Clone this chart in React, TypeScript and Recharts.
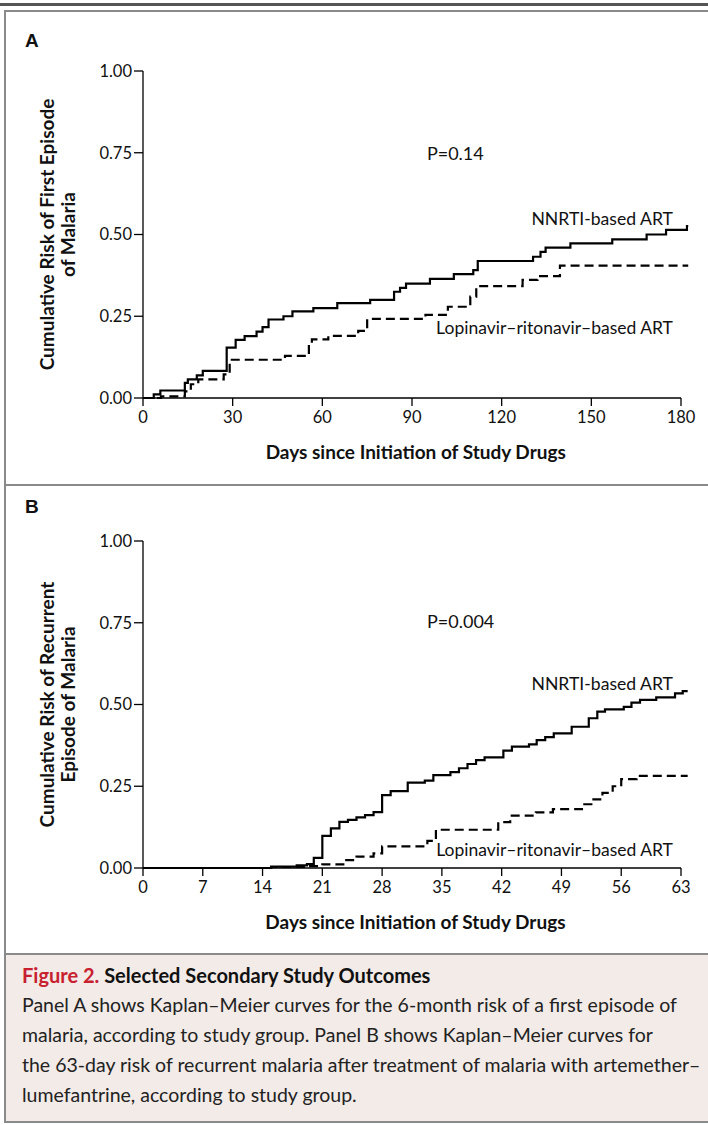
import { Line, LineChart, ReferenceDot, ReferenceLine, XAxis, YAxis } from "recharts";

const FONT = "Lato, 'Open Sans', 'DejaVu Sans', sans-serif";
const FRAME = "#8a8a8a";

// Panel A: risk of a first episode, days 0-180
const A_NNRTI_DAYS = [0, 3.6, 5.8, 14, 15, 18, 20, 28, 31, 34, 38, 40, 42, 47, 50, 57, 65, 76, 84, 86, 88, 96, 104, 110.5, 112, 130.5, 133, 134.7, 143, 157, 168.5, 175, 182, 182.5];
const A_NNRTI_RISK = [0, 0.011, 0.023, 0.046, 0.057, 0.069, 0.083, 0.154, 0.178, 0.189, 0.203, 0.217, 0.24, 0.25, 0.265, 0.275, 0.29, 0.3, 0.325, 0.337, 0.35, 0.364, 0.379, 0.391, 0.419, 0.432, 0.447, 0.46, 0.473, 0.485, 0.5, 0.514, 0.526, 0.526];
const A_LPV_DAYS = [0, 6, 14, 16, 18.5, 27, 29, 47.5, 55.5, 56.5, 62, 72, 75, 94.5, 102, 109.5, 111.5, 127, 132, 139.5, 182.5];
const A_LPV_RISK = [0, 0.005, 0.02, 0.042, 0.057, 0.072, 0.117, 0.129, 0.166, 0.179, 0.19, 0.205, 0.242, 0.254, 0.279, 0.31, 0.342, 0.361, 0.373, 0.405, 0.405];

// Panel B: risk of recurrent episode, days 0-63
const B_NNRTI_DAYS = [0, 15, 18, 19.2, 20, 21, 22, 23, 24, 25, 26, 27, 28, 29, 31, 33, 34, 36, 37, 38, 39, 40, 42.2, 43.2, 45.2, 46.1, 47.1, 48.1, 50.2, 52.2, 53.2, 54.1, 56.3, 57.2, 58.2, 60.1, 62.3, 63.2, 63.8];
const B_NNRTI_RISK = [0, 0.004, 0.008, 0.012, 0.031, 0.098, 0.121, 0.141, 0.147, 0.155, 0.162, 0.171, 0.223, 0.235, 0.261, 0.267, 0.284, 0.293, 0.305, 0.318, 0.33, 0.338, 0.359, 0.371, 0.378, 0.391, 0.4, 0.412, 0.432, 0.458, 0.478, 0.485, 0.493, 0.506, 0.514, 0.522, 0.534, 0.541, 0.541];
const B_LPV_DAYS = [0, 15, 19, 21, 23.6, 25, 27, 28, 33.3, 34.3, 41.6, 43, 46, 48, 51.4, 52.5, 53.8, 55, 56, 57.8, 63.8];
const B_LPV_RISK = [0, 0.003, 0.006, 0.011, 0.024, 0.035, 0.045, 0.066, 0.083, 0.117, 0.14, 0.16, 0.17, 0.18, 0.195, 0.21, 0.23, 0.25, 0.272, 0.282, 0.282];

const Y_TICKS = [0, 0.25, 0.5, 0.75, 1];
const A_TICKS = [0, 30, 60, 90, 120, 150, 180];
const B_TICKS = [0, 7, 14, 21, 28, 35, 42, 49, 56, 63];

type Point = { day: number; risk: number };
const toPoints = (days: number[], risk: number[]): Point[] => days.map((day, i) => ({ day, risk: risk[i] }));

const PLOT_LEFT = 143;
const PLOT_RIGHT = 681; // pixel of the last tick
const WIDTH = 708;

function textAt(value: string, anchor: "start" | "middle" | "end", size = 17, weight = 400, dy = 0) {
  return (props: any) => {
    const vb = props.viewBox ?? {};
    const x = vb.x + (vb.width || 0) / 2;
    const y = vb.y + (vb.height || 0) / 2 + dy;
    return (
      <text x={x} y={y} textAnchor={anchor} dominantBaseline="central" fontFamily={FONT} fontSize={size} fontWeight={weight} fill="#111">
        {value}
      </text>
    );
  };
}

function yTitle(lines: [string, string]) {
  return (props: any) => {
    const vb = props.viewBox ?? {};
    const cy = vb.y + vb.height / 2;
    return (
      <g>
        {lines.map((line, i) => {
          const cx = 46 + i * 21;
          return (
            <text key={line} x={cx} y={cy} transform={`rotate(-90, ${cx}, ${cy})`} textAnchor="middle" dominantBaseline="central" fontFamily={FONT} fontSize={19} fontWeight={700} fill="#111">
              {line}
            </text>
          );
        })}
      </g>
    );
  };
}

type PanelProps = {
  top: number;
  height: number;
  plotTop: number;
  plotBottom: number;
  xMax: number;
  xEnd: number;
  ticks: number[];
  nnrti: Point[];
  lopinavir: Point[];
  title: [string, string];
  pValue: string;
  pAt: [number, number];
  nnrtiAt: [number, number];
  lopAt: [number, number];
};

function Panel(p: PanelProps) {
  const plotRight = PLOT_LEFT + ((PLOT_RIGHT - PLOT_LEFT) * p.xEnd) / p.xMax;
  const axisH = 40;
  return (
    <div style={{ position: "absolute", left: 0, top: p.top }}>
      <LineChart
        width={WIDTH}
        height={p.height}
        margin={{ top: p.plotTop, right: WIDTH - plotRight, bottom: p.height - p.plotBottom - axisH, left: 0 }}
      >
        <XAxis
          type="number"
          dataKey="day"
          domain={[0, p.xEnd]}
          ticks={p.ticks}
          allowDataOverflow
          axisLine={false}
          tickLine={{ stroke: "#000", strokeWidth: 1.3 }}
          tickSize={8}
          tickMargin={5}
          height={axisH}
          tick={{ fill: "#111", fontSize: 16.5, fontFamily: FONT }}
          label={{ content: textAt("Days since Initiation of Study Drugs", "middle", 19, 700, 33) }}
        />
        <YAxis
          type="number"
          domain={[0, 1]}
          ticks={Y_TICKS}
          width={PLOT_LEFT}
          axisLine={{ stroke: "#000", strokeWidth: 1.3 }}
          tickLine={{ stroke: "#000", strokeWidth: 1.3 }}
          tickSize={9}
          tickMargin={2}
          tickFormatter={(v: number) => v.toFixed(2)}
          tick={{ fill: "#111", fontSize: 16.5, fontFamily: FONT }}
          label={{ content: yTitle(p.title) }}
        />
        <ReferenceLine segment={[{ x: 0, y: 0 }, { x: p.xMax, y: 0 }]} stroke="#000" strokeWidth={1.3} />
        <Line data={p.lopinavir} dataKey="risk" type="stepAfter" stroke="#000" strokeWidth={2.2} strokeDasharray="9 5" dot={false} isAnimationActive={false} />
        <Line data={p.nnrti} dataKey="risk" type="stepAfter" stroke="#000" strokeWidth={2.2} dot={false} isAnimationActive={false} />
        <ReferenceDot x={p.pAt[0]} y={p.pAt[1]} r={0} fill="none" stroke="none" label={{ content: textAt(p.pValue, "middle", 18) }} />
        <ReferenceDot x={p.nnrtiAt[0]} y={p.nnrtiAt[1]} r={0} fill="none" stroke="none" label={{ content: textAt("NNRTI-based ART", "end", 17.6) }} />
        <ReferenceDot x={p.lopAt[0]} y={p.lopAt[1]} r={0} fill="none" stroke="none" label={{ content: textAt("Lopinavir–ritonavir–based ART", "end", 17.5) }} />
      </LineChart>
    </div>
  );
}

const letter: React.CSSProperties = {
  position: "absolute",
  left: 25,
  fontFamily: "'Liberation Sans', Arial, sans-serif",
  fontWeight: 700,
  fontSize: 19,
  color: "#111",
};

export default function App() {
  return (
    <div style={{ position: "absolute", left: 0, top: 0, width: WIDTH, height: 1125, overflow: "hidden", background: "#fff" }}>
      <div style={{ position: "absolute", left: 0, top: 3, width: WIDTH, height: 3, background: "#555" }} />
      <div style={{ position: "absolute", left: 4, top: 10, width: 740, height: 1113, border: `2px solid ${FRAME}`, boxSizing: "border-box" }} />
      <div style={{ position: "absolute", left: 4, top: 484, width: 740, height: 2, background: FRAME }} />

      <Panel
        top={0}
        height={484}
        plotTop={71}
        plotBottom={398}
        xMax={180}
        xEnd={182.5}
        ticks={A_TICKS}
        nnrti={toPoints(A_NNRTI_DAYS, A_NNRTI_RISK)}
        lopinavir={toPoints(A_LPV_DAYS, A_LPV_RISK)}
        title={["Cumulative Risk of First Episode", "of Malaria"]}
        pValue="P=0.14"
        pAt={[104.5, 0.75]}
        nnrtiAt={[177.3, 0.55]}
        lopAt={[177.3, 0.217]}
      />
      <div style={{ ...letter, top: 30 }}>A</div>

      <Panel
        top={486}
        height={467}
        plotTop={55}
        plotBottom={382}
        xMax={63}
        xEnd={63.8}
        ticks={B_TICKS}
        nnrti={toPoints(B_NNRTI_DAYS, B_NNRTI_RISK)}
        lopinavir={toPoints(B_LPV_DAYS, B_LPV_RISK)}
        title={["Cumulative Risk of Recurrent", "Episode of Malaria"]}
        pValue="P=0.004"
        pAt={[37.2, 0.755]}
        nnrtiAt={[62.06, 0.563]}
        lopAt={[62.06, 0.058]}
      />
      <div style={{ ...letter, top: 496 }}>B</div>

      <div
        style={{
          position: "absolute",
          left: 4,
          top: 953,
          width: 740,
          height: 170,
          background: "#f2ebe7",
          borderTop: `2px solid ${FRAME}`,
          borderLeft: `2px solid ${FRAME}`,
          borderBottom: `2px solid ${FRAME}`,
          boxSizing: "border-box",
          padding: "5px 0 0 16px",
          fontFamily: FONT,
          color: "#222",
          whiteSpace: "nowrap",
        }}
      >
        <div style={{ fontSize: 20, fontWeight: 700, lineHeight: "30px", color: "#111" }}>
          <span style={{ color: "#c8202f" }}>Figure 2.</span> Selected Secondary Study Outcomes
        </div>
        <div style={{ fontSize: 19.5, lineHeight: "30px" }}>
          Panel A shows Kaplan–Meier curves for the 6-month risk of a first episode of
          <br />
          malaria, according to study group. Panel B shows Kaplan–Meier curves for
          <br />
          the 63-day risk of recurrent malaria after treatment of malaria with artemether–
          <br />
          lumefantrine, according to study group.
        </div>
      </div>
    </div>
  );
}
